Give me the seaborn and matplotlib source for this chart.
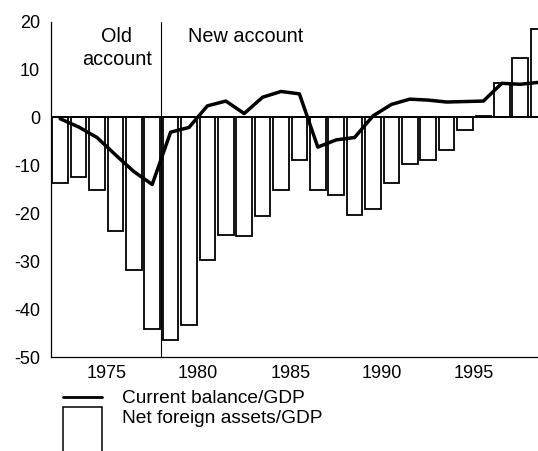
import matplotlib
matplotlib.use("Agg")
import matplotlib.pyplot as plt
from matplotlib.lines import Line2D
from matplotlib.patches import Rectangle
import numpy as np
import pandas as pd
import seaborn as sns

# Annual series, per cent of GDP
years = list(range(1972, 1999))
net_foreign_assets = [-13.8, -12.5, -15.2, -23.7, -31.8, -44.1, -46.4, -43.3, -29.7,
                      -24.5, -24.7, -20.6, -15.2, -8.9, -15.1, -16.1, -20.4, -19.2,
                      -13.6, -9.7, -8.9, -6.9, -2.6, 0.2, 7.2, 12.3, 18.5]
current_balance = [-0.3, -2.0, -4.2, -7.8, -11.3, -14.0, -3.1, -2.1, 2.4,
                   3.4, 0.8, 4.2, 5.4, 4.9, -6.2, -4.7, -4.2, 0.3,
                   2.7, 3.8, 3.6, 3.2, 3.3, 3.4, 7.1, 6.9, 7.3]
y_ticks = [-50, -40, -30, -20, -10, 0, 10, 20]
x_labels = [1975, 1980, 1985, 1990, 1995]

sns.set_theme(style="white")
plt.rcParams["font.family"] = ["Liberation Sans", "DejaVu Sans"]
plt.rcParams["axes.unicode_minus"] = False

df = pd.DataFrame({"year": years, "nfa": net_foreign_assets, "cab": current_balance})
# each annual value occupies the span [year, year + 1]
df["xpos"] = df["year"] + 0.5

W, H = 538, 451
fig = plt.figure(figsize=(W / 100, H / 100), dpi=100)
ax_left, ax_right, ax_top, ax_bottom = 51, 538, 21.5, 357
ax = fig.add_axes([ax_left / W, 1 - ax_bottom / H, (ax_right - ax_left) / W, (ax_bottom - ax_top) / H])

sns.barplot(data=df, x="xpos", y="nfa", native_scale=True, width=0.85,
            color="white", saturation=1, edgecolor="black", linewidth=1.3,
            errorbar=None, ax=ax, zorder=2)
sns.lineplot(data=df, x="xpos", y="cab", color="black", linewidth=2.5,
             ax=ax, zorder=4, legend=False)

ax.axhline(0, color="black", linewidth=1.3, zorder=3)
ax.axvline(1978, color="black", linewidth=0.8, zorder=3)

ax.set_xlim(1972, 1972 + (ax_right - ax_left) / 18.4)
ax.set_ylim(-50, 20)
ax.set_yticks(y_ticks)
ax.set_yticklabels([str(v) for v in y_ticks])
ax.set_xticks(x_labels)
ax.set_xticklabels([str(v) for v in x_labels])
ax.set_xticks(years, minor=True)
ax.tick_params(axis="both", which="both", direction="in", length=4, width=0.9,
               color="black", labelsize=13, labelcolor="black")
ax.tick_params(axis="x", which="major", pad=6)
ax.tick_params(axis="y", which="major", pad=8)
ax.set_xlabel("")
ax.set_ylabel("")
for side in ["top", "right"]:
    ax.spines[side].set_visible(False)
for side in ["left", "bottom"]:
    ax.spines[side].set_color("black")
    ax.spines[side].set_linewidth(0.9)
ax.grid(False)

ax.text(1975.57, 15.8, "Old", ha="center", va="baseline", fontsize=14.3, color="black")
ax.text(1975.57, 10.9, "account", ha="center", va="baseline", fontsize=14.3, color="black")
ax.text(1979.46, 15.8, "New account", ha="left", va="baseline", fontsize=14.3, color="black")

# key below the plot
def fx(px):
    return px / W

def fy(py):
    return 1 - py / H

fig.add_artist(Line2D([fx(63), fx(102)], [fy(396.7), fy(396.7)], color="black", linewidth=2.0))
fig.add_artist(Rectangle((fx(63), fy(470)), fx(102) - fx(63), fy(406.7) - fy(470),
                         facecolor="white", edgecolor="black", linewidth=1.1,
                         transform=fig.transFigure, clip_on=False))
fig.text(fx(121.7), fy(403.3), "Current balance/GDP", fontsize=13.8, va="baseline", color="black")
fig.text(fx(121.7), fy(422.7), "Net foreign assets/GDP", fontsize=13.8, va="baseline", color="black")

fig.savefig("out.png", dpi=100)
